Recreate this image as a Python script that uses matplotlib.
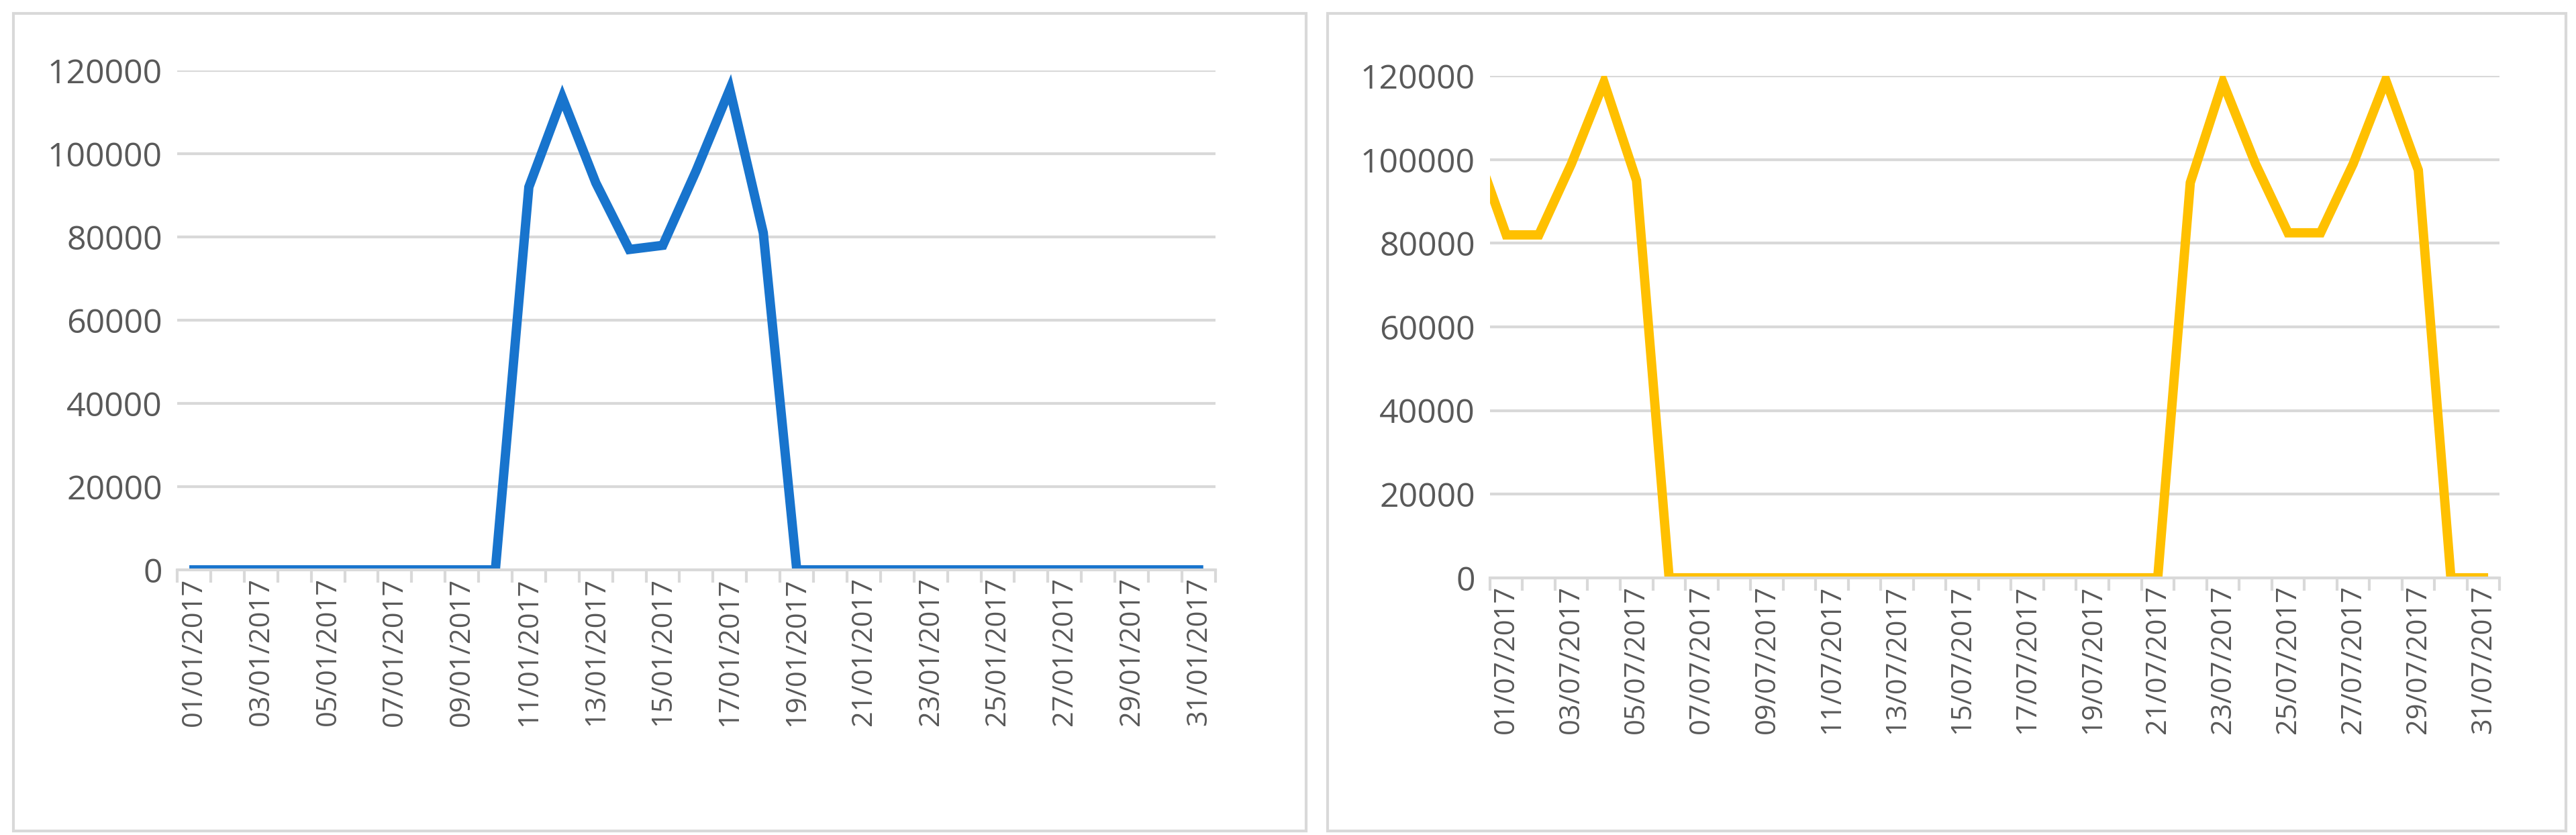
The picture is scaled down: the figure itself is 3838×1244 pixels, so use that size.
import matplotlib
matplotlib.use("Agg")
import matplotlib.pyplot as plt
from matplotlib.patches import Rectangle
import numpy as np

jan_labels = [f"{d:02d}/01/2017" for d in range(1, 32)]
jan_values = [0]*10 + [92000, 113500, 93000, 77000, 78000, 96000, 115500, 81000] + [0]*13
jul_labels = [f"{d:02d}/07/2017" for d in range(1, 32)]
jul_prev_value = 104000  # 30/06/2017, partly visible at left edge
jul_values = [82000, 82000, 99000, 118500, 95000] + [0]*15 + [0, 94500, 118500, 99000, 82500, 82500, 99000, 119000, 97500, 0, 0]

plt.rcParams['font.family'] = ['Open Sans', 'DejaVu Sans']
fig = plt.figure(figsize=(38.38, 12.44), dpi=100)
fig.patches.append(Rectangle((20/3838, 1-1238/1244), 1926/3838, 1218/1244, transform=fig.transFigure,
                             fill=False, edgecolor='#d9d9d9', linewidth=3))
fig.patches.append(Rectangle((1978/3838, 1-1238/1244), 1845/3838, 1218/1244, transform=fig.transFigure,
                             fill=False, edgecolor='#d9d9d9', linewidth=3))

def setup(ax, labels, x, y, color):
    ax.plot(x, y, color=color, linewidth=10, solid_joinstyle='miter', clip_on=True)
    ax.set_xlim(0, 31)
    ax.set_ylim(0, 120000)
    ax.set_yticks(np.arange(0, 120001, 20000))
    ax.grid(axis='y', color='#d9d9d9', linewidth=3)
    ax.set_axisbelow(True)
    for s in ['top', 'right', 'left']:
        ax.spines[s].set_visible(False)
    ax.spines['bottom'].set_color('#d9d9d9')
    ax.spines['bottom'].set_linewidth(3)
    ax.tick_params(axis='y', length=0, labelsize=36, labelcolor='#595959', pad=16)
    ax.set_xticks(np.arange(0, 32), minor=False)
    ax.set_xticklabels([])
    ax.tick_params(axis='x', which='major', length=14, width=3, color='#d9d9d9', direction='out')
    ax.set_xticks(np.arange(0.5, 31, 2), minor=True)
    ax.set_xticklabels(labels[::2], minor=True, rotation=90)
    ax.tick_params(axis='x', which='minor', length=0, labelsize=30, labelcolor='#595959', pad=8)

ax1 = fig.add_axes([0.0688, 0.3175, 0.403, 0.598])
setup(ax1, jan_labels, np.arange(31) + 0.5, jan_values, '#1874CD')

ax2 = fig.add_axes([0.5784, 0.308, 0.392, 0.601])
setup(ax2, jul_labels, np.arange(-1, 31) + 0.5, [jul_prev_value] + jul_values, '#FFC000')

fig.savefig('out.png', dpi=100)
